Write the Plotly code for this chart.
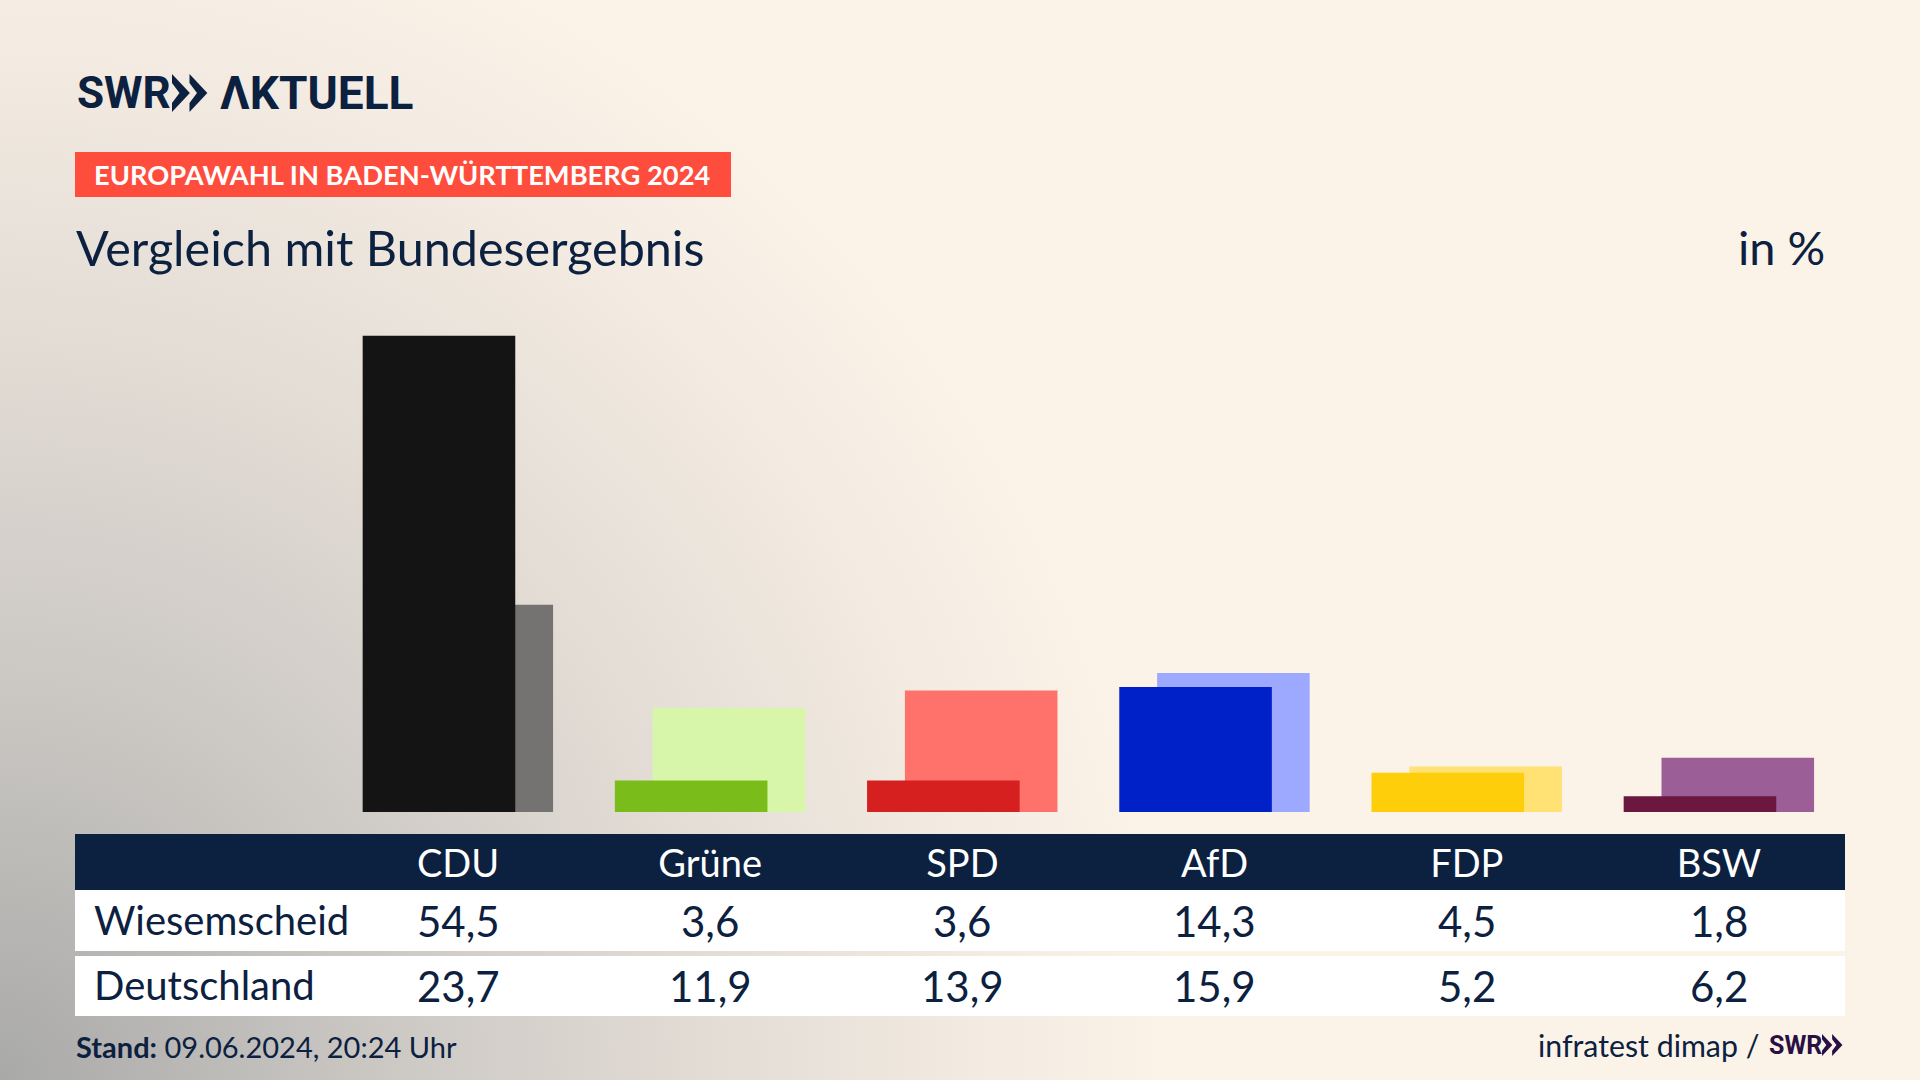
import base64
import plotly.graph_objects as go

parteien = ['CDU', 'Grüne', 'SPD', 'AfD', 'FDP', 'BSW']
wiesemscheid = [54.5, 3.6, 3.6, 14.3, 4.5, 1.8]
deutschland = [23.7, 11.9, 13.9, 15.9, 5.2, 6.2]

farben_vorne = ['#141414', '#7ABC1A', '#D61F1F', '#0020C8', '#FFCE0A', '#6B173F']
farben_hinten = ['#747371', '#D7F6A9', '#FF726B', '#9DA9FF', '#FFE174', '#9C5E96']

W, H = 1920, 1080
NAVY = '#0C2040'
FONT = 'Lato'
LOGO = 'Roboto'


def px(x):
    return x / W


def py(y):
    return 1 - y / H


def komma(v):
    return f'{v:.1f}'.replace('.', ',')


def text(s, x, y, size, color=NAVY, anchor='left', xref='paper', weight=None, family=FONT):
    fig.add_annotation(
        text=s, x=px(x) if xref == 'paper' else x, y=py(y), xref=xref, yref='paper',
        xanchor=anchor, yanchor='middle', showarrow=False, borderpad=0,
        font=dict(family=family, size=size, color=color, weight=weight),
    )


def rect(x0, y0, x1, y1, color):
    fig.add_shape(type='rect', xref='paper', yref='paper', layer='below',
                  x0=px(x0), x1=px(x1), y0=py(y0), y1=py(y1),
                  fillcolor=color, line_width=0)


def chevrons(x, y, h, color):
    # SWR logo arrows
    w = h * 0.47
    for i in range(2):
        x0 = x + i * h * 0.46
        pts = [(x0, y), (x0 + w, y + h / 2), (x0, y + h), (x0, y + h * 0.76),
               (x0 + w * 0.42, y + h / 2), (x0, y + h * 0.24)]
        path = 'M' + ' L'.join(f'{px(a):.5f},{py(b):.5f}' for a, b in pts) + ' Z'
        fig.add_shape(type='path', xref='paper', yref='paper', path=path,
                      fillcolor=color, line_width=0)


svg = f'''<svg xmlns="http://www.w3.org/2000/svg" width="{W}" height="{H}">
<defs><radialGradient id="g" gradientUnits="userSpaceOnUse" cx="0" cy="0" r="1"
gradientTransform="translate(0 {H}) scale(1180 1230)">
<stop offset="0" stop-color="#A9A9A8"/><stop offset="0.3" stop-color="#C9C6C2"/>
<stop offset="0.6" stop-color="#E3DCD5"/><stop offset="0.85" stop-color="#F4ECE2"/>
<stop offset="1" stop-color="#FBF3E8"/></radialGradient></defs>
<rect width="{W}" height="{H}" fill="#FBF3E8"/><rect width="{W}" height="{H}" fill="url(#g)"/></svg>'''
hintergrund = 'data:image/svg+xml;base64,' + base64.b64encode(svg.encode()).decode()

fig = go.Figure()

fig.add_trace(go.Bar(x=parteien, y=deutschland, name='Deutschland', offset=-0.228, width=0.605,
                     marker=dict(color=farben_hinten, line_width=0)))
fig.add_trace(go.Bar(x=parteien, y=wiesemscheid, name='Wiesemscheid', offset=-0.378, width=0.605,
                     marker=dict(color=farben_vorne, line_width=0)))

# table backgrounds
rect(75, 834, 1845, 890, NAVY)
rect(75, 890, 1845, 951, '#FFFFFF')
rect(75, 956, 1845, 1016, '#FFFFFF')
rect(75, 152, 731, 197, '#FF4D3D')

# header
text('SWR', 76, 93, 44, weight=700, family=LOGO)
chevrons(172, 74, 38, NAVY)
text('ΛKTUELL', 219, 93, 46, weight=700, family=LOGO)
text('EUROPAWAHL IN BADEN-WÜRTTEMBERG 2024', 93, 175, 27.3, '#FFFFFF', weight=700)
text('Vergleich mit Bundesergebnis', 75, 247, 48.5)
text('in %', 1826, 247, 47, anchor='right')

# table rows
text('Wiesemscheid', 93, 920, 40)
text('Deutschland', 93, 985, 40)
for p, a, b in zip(parteien, wiesemscheid, deutschland):
    text(komma(a), p, 921, 42, anchor='center', xref='x')
    text(komma(b), p, 986, 42, anchor='center', xref='x')

# footer
text('<b>Stand:</b> 09.06.2024, 20:24 Uhr', 75, 1046, 29)
text('infratest dimap /', 1760, 1045, 30.3, anchor='right')
text('SWR', 1768, 1045, 25, '#2A0F45', weight=700, family=LOGO)
chevrons(1822, 1034, 22, '#2A0F45')

fig.update_layout(
    width=W, height=H, margin=dict(l=0, r=0, t=0, b=0),
    barmode='overlay', showlegend=False,
    paper_bgcolor='rgba(0,0,0,0)', plot_bgcolor='rgba(0,0,0,0)',
    images=[dict(source=hintergrund, xref='paper', yref='paper', x=0, y=1, sizex=1, sizey=1,
                 xanchor='left', yanchor='top', sizing='stretch', layer='below')],
)
fig.update_xaxes(
    type='category', categoryorder='array', categoryarray=parteien,
    range=[-458 / 252.2, (W - 458) / 252.2], showgrid=False, zeroline=False, showline=False,
    ticks='', ticklabelstandoff=26, tickfont=dict(family=FONT, size=38, color='#FFFFFF'),
    fixedrange=True,
)
fig.update_yaxes(
    domain=[1 - 812 / H, 1], range=[0, 812 / 8.74], visible=False, fixedrange=True,
)

fig.write_html('out.html', config={'displayModeBar': False},
               post_script="document.body.style.margin='0';document.body.style.overflow='hidden';")
